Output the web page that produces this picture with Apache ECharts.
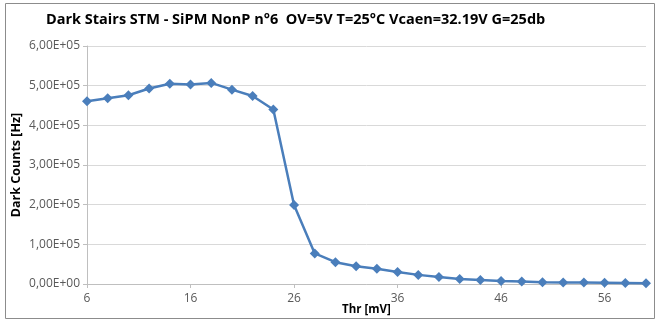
<!DOCTYPE html>
<html><head><meta charset="utf-8">
<script src="https://cdn.jsdelivr.net/npm/echarts@6/dist/echarts.min.js"></script>
<style>html,body{margin:0;padding:0;background:#fff}#c{width:658px;height:322px}</style>
</head><body><div id="c"></div>
<script>
const thresholds = [6,8,10,12,14,16,18,20,22,24,26,28,30,32,34,36,38,40,42,44,46,48,50,52,54,56,58,60];
const darkCounts = [461000,468000,476000,493000,505000,503000,507000,490000,474000,440000,199000,77000,55000,45000,38500,30000,23000,17500,12500,10000,7500,6000,4300,4000,3500,3000,2500,2000];
const yTicks = [0,100000,200000,300000,400000,500000,600000];
const titleText = 'Dark Stairs STM - SiPM NonP n°6  OV=5V T=25°C Vcaen=32.19V G=25db';

function fmt(v){
  if (v === 0) return '0,00E+00';
  const e = Math.floor(Math.log10(Math.abs(v)));
  const m = v / Math.pow(10, e);
  return m.toFixed(2).replace('.', ',') + 'E+' + String(e).padStart(2, '0');
}
const chart = echarts.init(document.getElementById('c'));
const font = 'Open Sans, Liberation Sans, sans-serif';
chart.setOption({
  animation: false,
  title: { text: titleText, left: 41, top: 7,
    textStyle: { fontFamily: font, fontSize: 14.5, fontWeight: 'bold', color: '#000' } },
  grid: { left: 87, right: 12, top: 46, bottom: 38, containLabel: false, outerBoundsMode: 'none' },
  xAxis: {
    type: 'category', data: thresholds.map(String), boundaryGap: false,
    name: 'Thr [mV]', nameLocation: 'middle', nameGap: 20, nameMoveOverlap: false,
    nameTextStyle: { fontFamily: font, fontSize: 11.5, fontWeight: 'bold', color: '#000' },
    axisLine: { lineStyle: { color: '#bfbfbf' } },
    axisTick: { interval: 4, length: 4, lineStyle: { color: '#bfbfbf' } },
    axisLabel: { interval: 4, fontFamily: font, fontSize: 12, color: '#595959', margin: 9 },
    splitLine: { show: false }
  },
  yAxis: {
    type: 'value', min: 0, max: 600000, interval: 100000,
    name: 'Dark Counts [Hz]', nameLocation: 'middle', nameGap: 64, nameRotate: 90, nameMoveOverlap: false,
    nameTextStyle: { fontFamily: font, fontSize: 12.5, fontWeight: 'bold', color: '#000' },
    axisLine: { show: true, lineStyle: { color: '#bfbfbf' } },
    axisTick: { show: true, length: 4, lineStyle: { color: '#bfbfbf' } },
    axisLabel: { formatter: fmt, fontFamily: font, fontSize: 12, color: '#595959', margin: 7 },
    splitLine: { lineStyle: { color: '#d9d9d9', width: 1 } }
  },
  series: [{
    type: 'line', data: darkCounts,
    symbol: 'diamond', symbolSize: 10,
    lineStyle: { color: '#4a7ebb', width: 2.5 },
    itemStyle: { color: '#4a7ebb' }
  }],
  graphic: [{ type: 'rect', shape: { x: 5.5, y: 3.5, width: 649, height: 315 },
    style: { fill: 'none', stroke: '#8c8c8c', lineWidth: 1 }, silent: true }]
});
</script></body></html>
